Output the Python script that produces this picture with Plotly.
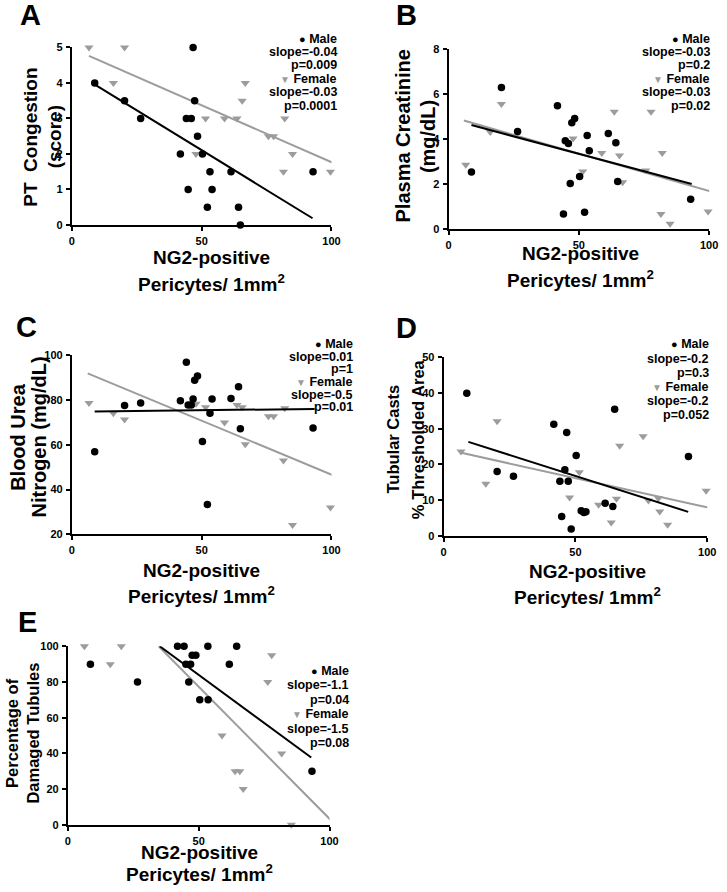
import plotly.graph_objects as go

W, H = 727, 892

# pericyte counts (x), shared by panels A-D
male_x = [8.8, 20.3, 26.5, 41.8, 44.1, 44.8, 46.0, 46.7, 47.3, 48.4, 50.3, 52.2, 53.2, 54.0, 61.3, 64.2, 64.9, 92.9]
female_x = [6.6, 16.0, 20.3, 47.8, 51.5, 58.8, 63.6, 65.6, 66.8, 75.7, 77.7, 81.5, 82.0, 85.0, 99.6, 100.3]

# A - PT congestion score
a_male_y = [4, 3.5, 3, 2, 3, 1, 3, 5, 3.5, 2.5, 2, 0.5, 1.5, 1, 1.5, 0.5, 0, 1.5]
a_female_y = [5, 4, 5, 2, 3, 3, 3, 3.5, 4, 2.5, 2.5, 1.5, 3, 2, 1.5, 2]
a_male_fit = ([9.2, 92.7], [3.94, 0.19])
a_female_fit = ([6.6, 100.3], [4.76, 1.76])

# B - plasma creatinine
b_male_y = [2.54, 6.3, 4.34, 5.49, 0.67, 3.93, 3.81, 2.02, 4.73, 4.92, 2.34, 0.75, 4.16, 3.49, 4.25, 3.84, 2.12, 1.32]
b_female_y = [2.86, 4.32, 5.57, 4.03, 2.56, 3.38, 5.22, 3.27, 2.08, 2.61, 5.22, 0.67, 3.38, 0.23, 0.78, 0.97]
b_male_fit = ([8.8, 93.3], [4.63, 2.0])
b_female_fit = ([5.9, 101.0], [4.83, 1.66])

# C - blood urea nitrogen
c_male_y = [56.9, 77.6, 78.7, 79.7, 96.9, 77.8, 77.8, 80.5, 88.8, 90.7, 61.5, 33.3, 74.1, 80.5, 80.7, 85.9, 67.2, 67.5]
c_female_y = [78.7, 74.1, 71.3, 78.3, 76.8, 70.0, 77.8, 76.8, 60.2, 72.7, 72.7, 53.0, 76.3, 24.2, 32.0, 43.3]
c_male_fit = ([8.8, 93.5], [74.9, 76.0])
c_female_fit = ([6.1, 101.0], [91.9, 46.2])

# D - tubular casts
d_male_y = [39.9, 18.0, 16.7, 31.2, 15.3, 5.4, 18.5, 28.9, 15.3, 1.9, 22.5, 7.0, 6.5, 6.7, 9.1, 8.2, 35.4, 22.2]
d_female_y = [23.6, 14.6, 32.1, 10.7, 17.8, 8.7, 3.7, 10.4, 25.2, 27.9, 9.9, 10.5, 6.8, 3.1, 12.6, 9.9]
d_male_fit = ([9.4, 92.8], [26.3, 6.7])
d_female_fit = ([6.3, 100.3], [23.3, 7.9])

# E - damaged tubules
e_male_x = [8.6, 26.6, 41.9, 44.4, 45.1, 46.2, 46.9, 47.5, 48.9, 50.4, 53.5, 53.6, 61.7, 64.5, 93.3]
e_male_y = [90, 80, 100, 100, 90, 80, 90, 95, 95, 70, 100, 70, 90, 100, 30]
e_female_x = [6.3, 16.2, 20.4, 58.9, 63.9, 65.7, 67.0, 76.4, 77.9, 81.7, 85.4, 100.3, 100.6]
e_female_y = [100, 90, 100, 50, 30, 30, 20, 80, 95, 40, 0, 95, 20]
e_male_fit = ([35.1, 93.0], [100, 37.7])
e_female_fit = ([34.7, 100.8], [100, 2.2])

stats = {
    "A": ("slope=-0.04", "p=0.009", "slope=-0.03", "p=0.0001"),
    "B": ("slope=-0.03", "p=0.2", "slope=-0.03", "p=0.02"),
    "C": ("slope=0.01", "p=1", "slope=-0.5", "p=0.01"),
    "D": ("slope=-0.2", "p=0.3", "slope=-0.2", "p=0.052"),
    "E": ("slope=-1.1", "p=0.04", "slope=-1.5", "p=0.08"),
}

y_titles = {
    "A": ("PT  Congestion", "(score)"),
    "B": ("Plasma Creatinine", "(mg/dL)"),
    "C": ("Blood Urea", "Nitrogen (mg/dL)"),
    "D": ("Tubular Casts", "% Thresholded Area"),
    "E": ("Percentage of", "Damaged Tubules"),
}

FONT = "Liberation Sans, Arial, sans-serif"
GRAY = "#9c9c9c"

# pixel layout of each panel
panels = [
    dict(key="A", mx=male_x, my=a_male_y, fx=female_x, fy=a_female_y, mfit=a_male_fit, ffit=a_female_fit,
         box=(70, 334, 42, 222), yr=[0, 5], dt=1, letter=(28, 9),
         ytitle=(28, 52, 133, 19), xt=(212, 255, 281), leg=(342, 33, 13.6)),
    dict(key="B", mx=male_x, my=b_male_y, fx=female_x, fy=b_female_y, mfit=b_male_fit, ffit=b_female_fit,
         box=(453, 718, 44, 226), yr=[0, 8], dt=2, letter=(410, 9),
         ytitle=(407, 432, 132, 20), xt=(587, 251, 277), leg=(721, 33, 13.6)),
    dict(key="C", mx=male_x, my=c_male_y, fx=female_x, fy=c_female_y, mfit=c_male_fit, ffit=c_female_fit,
         box=(70, 334, 354, 535.5), yr=[20, 100], dt=20, letter=(24, 325),
         ytitle=(15, 37, 437, 20), xt=(202, 572, 597), leg=(358, 343, 12.7)),
    dict(key="D", mx=male_x, my=d_male_y, fx=female_x, fy=d_female_y, mfit=d_male_fit, ffit=d_female_fit,
         box=(448, 716, 356, 537), yr=[0, 50], dt=10, letter=(410, 326),
         ytitle=(397, 422, 439, 16.5), xt=(594, 573, 598), leg=(720, 343, 14.4)),
    dict(key="E", mx=e_male_x, my=e_male_y, fx=e_female_x, fy=e_female_y, mfit=e_male_fit, ffit=e_female_fit,
         box=(66, 332, 649, 830), yr=[0, 100], dt=20, letter=(25, 624),
         ytitle=(9, 31, 737, 16.5), xt=(200, 858, 879), leg=(354, 674, 14.6)),
]


def px(x):
    return x / W


def py(y):
    return 1 - y / H


fig = go.Figure()
annotations = []
layout_axes = {}

for i, p in enumerate(panels, start=1):
    xa = "x" if i == 1 else f"x{i}"
    ya = "y" if i == 1 else f"y{i}"
    x0, x1, y0, y1 = p["box"]

    # female fit + points
    fig.add_trace(go.Scatter(x=p["ffit"][0], y=p["ffit"][1], mode="lines", xaxis=xa, yaxis=ya,
                             line=dict(color=GRAY, width=2), cliponaxis=False, hoverinfo="skip"))
    fig.add_trace(go.Scatter(x=p["fx"], y=p["fy"], mode="markers", xaxis=xa, yaxis=ya, cliponaxis=False,
                             marker=dict(symbol="triangle-down", size=8, color=GRAY)))
    # male fit + points
    fig.add_trace(go.Scatter(x=p["mfit"][0], y=p["mfit"][1], mode="lines", xaxis=xa, yaxis=ya,
                             line=dict(color="black", width=2), cliponaxis=False, hoverinfo="skip"))
    fig.add_trace(go.Scatter(x=p["mx"], y=p["my"], mode="markers", xaxis=xa, yaxis=ya, cliponaxis=False,
                             marker=dict(symbol="circle", size=7.5, color="black")))

    axis_common = dict(showgrid=False, zeroline=False, showline=True, linecolor="black", linewidth=2,
                       ticks="outside", ticklen=4, tickwidth=2, tickcolor="black", fixedrange=True,
                       tickfont=dict(family=FONT, size=11, color="black", weight="bold"))
    layout_axes["xaxis" if i == 1 else f"xaxis{i}"] = dict(
        axis_common, domain=[px(x0), px(x1)], range=[0, 100], tickvals=[0, 50, 100],
        anchor=ya, ticklabelstandoff=1)
    layout_axes["yaxis" if i == 1 else f"yaxis{i}"] = dict(
        axis_common, domain=[py(y1), py(y0)], range=p["yr"], dtick=p["dt"], anchor=xa,
        ticklabelstandoff=1)

    # panel letter
    annotations.append(dict(text=f"<b>{p['key']}</b>", x=px(p["letter"][0]), y=py(p["letter"][1]),
                            xref="paper", yref="paper", showarrow=False, xanchor="center", yanchor="middle",
                            font=dict(family=FONT, size=29, color="black")))
    # y title, one annotation per line
    tx1, tx2, ty, fs = p["ytitle"]
    for txt, xx in zip(y_titles[p["key"]], (tx1, tx2)):
        annotations.append(dict(text=f"<b>{txt}</b>", x=px(xx), y=py(ty), xref="paper", yref="paper",
                                showarrow=False, textangle=-90, xanchor="center", yanchor="middle",
                                font=dict(family=FONT, size=fs, color="black")))
    # x title
    cx, r1, r2 = p["xt"]
    for txt, yy in (("NG2-positive", r1), ("Pericytes/ 1mm<sup>2</sup>", r2)):
        annotations.append(dict(text=f"<b>{txt}</b>", x=px(cx), y=py(yy), xref="paper", yref="paper",
                                showarrow=False, xanchor="center", yanchor="middle",
                                font=dict(family=FONT, size=19, color="black")))
    # legend text block
    ms, mp, fs_, fp = stats[p["key"]]
    lines = [
        "<span style='font-size:11px'>●</span> Male", ms, mp,
        f"<span style='color:{GRAY};font-size:10px'>▼</span> Female", fs_, fp,
    ]
    rx, ly, dy = p["leg"]
    for k, txt in enumerate(lines):
        annotations.append(dict(text=f"<b>{txt}</b>", x=px(rx), y=py(ly + k * dy), xref="paper", yref="paper",
                                showarrow=False, xanchor="right", yanchor="middle",
                                font=dict(family=FONT, size=12.5, color="black")))

fig.update_layout(
    width=W, height=H,
    margin=dict(l=0, r=0, t=0, b=0),
    paper_bgcolor="white", plot_bgcolor="white",
    showlegend=False,
    annotations=annotations,
    **layout_axes,
)

# drop the default page margin so the figure sits at the window's top-left corner
fig.write_html("out.html", config={"displayModeBar": False},
               post_script="document.body.style.margin='0';")
